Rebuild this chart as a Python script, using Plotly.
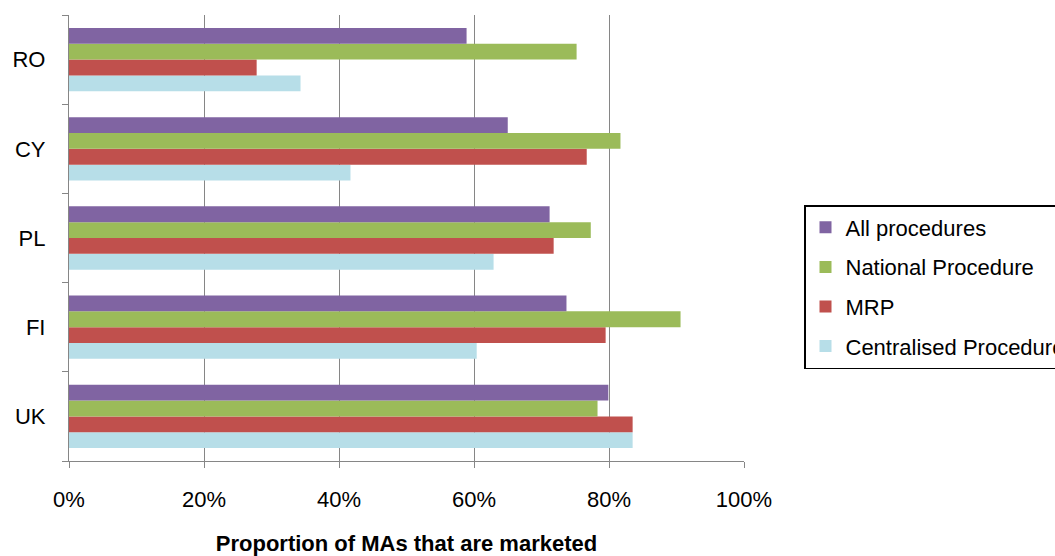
import plotly.graph_objects as go

countries = ["UK", "FI", "PL", "CY", "RO"]
all_procedures = [0.799, 0.737, 0.712, 0.650, 0.589]
national_procedure = [0.783, 0.906, 0.773, 0.817, 0.752]
mrp = [0.835, 0.795, 0.718, 0.767, 0.278]
centralised_procedure = [0.835, 0.604, 0.629, 0.417, 0.343]

series = [
    ("Centralised Procedure", centralised_procedure, "#B7DEE8", 4),
    ("MRP", mrp, "#C0504D", 3),
    ("National Procedure", national_procedure, "#9BBB59", 2),
    ("All procedures", all_procedures, "#8064A2", 1),
]

fig = go.Figure()
for name, vals, color, rank in series:
    fig.add_trace(go.Bar(
        y=countries, x=vals, name=name, orientation="h",
        marker=dict(color=color, line=dict(width=0)),
        legendgroup=name, legendrank=rank,
    ))

font_family = "Liberation Sans, Arial, sans-serif"
grey = "#868686"

fig.update_layout(
    width=1055, height=556,
    barmode="group", bargap=0.29, bargroupgap=0,
    paper_bgcolor="white", plot_bgcolor="white",
    margin=dict(l=69, r=311, t=15, b=95, autoexpand=False),
    font=dict(family=font_family, size=22, color="black"),
    showlegend=True,
    legend=dict(
        x=(804 - 69) / 675, xanchor="left",
        y=(461 - 205) / 446, yanchor="top",
        traceorder="grouped", tracegroupgap=8,
        bordercolor="black", borderwidth=1.5,
        font=dict(family=font_family, size=22, color="black"),
        bgcolor="white",
    ),
    xaxis=dict(
        range=[0, 1], dtick=0.2, tickformat=".0%",
        showgrid=True, gridcolor=grey, gridwidth=1.3,
        showline=True, linecolor=grey, linewidth=1.3,
        ticks="outside", ticklen=6, tickcolor=grey, tickwidth=1.3,
        ticklabelstandoff=12, zeroline=False,
        title=dict(text="<b>Proportion of MAs that are marketed</b>",
                   font=dict(size=22), standoff=25),
    ),
    yaxis=dict(
        type="category", categoryorder="array", categoryarray=countries,
        showgrid=False, showline=True, linecolor=grey, linewidth=1.3,
        ticks="outside", ticklen=6, tickcolor=grey, tickwidth=1.3,
        tickson="boundaries", ticklabelstandoff=18,
    ),
)

fig.write_html(
    "out.html",
    config={"displayModeBar": False},
    post_script="document.body.style.margin='0px';document.body.style.overflow='hidden';",
)
